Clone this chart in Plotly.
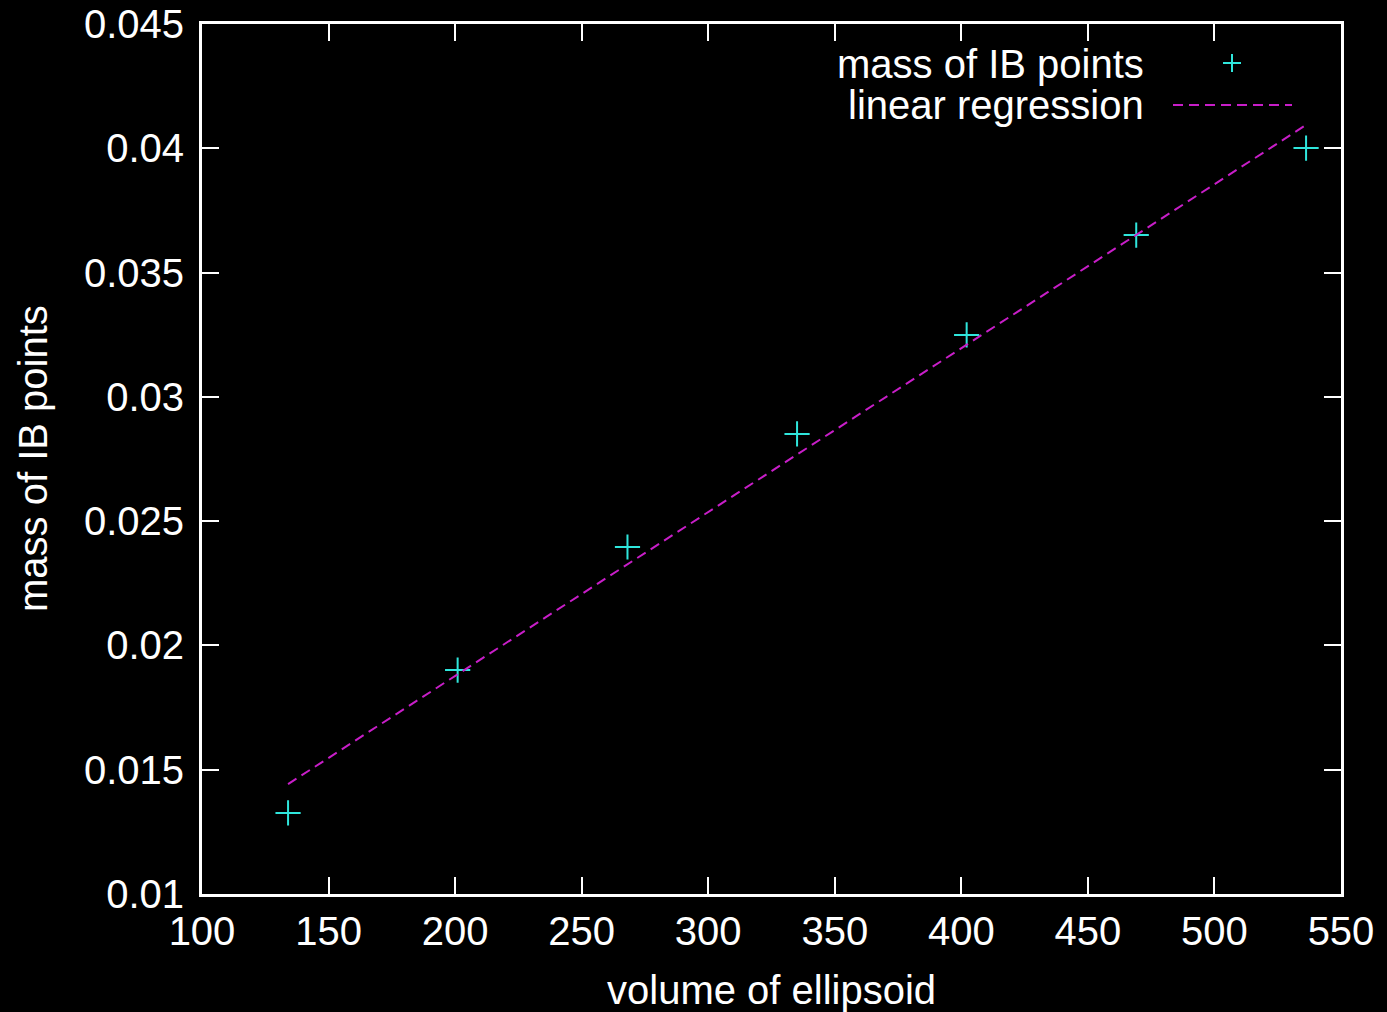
import plotly.graph_objects as go

# ---- data ----
volume = [134.0, 201.0, 268.1, 335.1, 402.1, 469.1, 536.2]
mass_ib = [0.01326, 0.01901, 0.02396, 0.02851, 0.03249, 0.03651, 0.04001]
fit_x = [134.0, 536.2]
fit_y = [0.01442, 0.04094]

x_ticks = [100, 150, 200, 250, 300, 350, 400, 450, 500, 550]
x_ticktext = ["100", "150", "200", "250", "300", "350", "400", "450", "500", "550"]
y_ticks = [0.01, 0.015, 0.02, 0.025, 0.03, 0.035, 0.04, 0.045]
y_ticktext = ["0.01", "0.015", "0.02", "0.025", "0.03", "0.035", "0.04", "0.045"]

# ---- layout constants ----
W, H = 1387, 1012
L, R, T, B = 202, 46, 24, 118
PW, PH = W - L - R, H - T - B
FONT = "Liberation Sans, Arial, Helvetica, sans-serif"
FS = 40
CYAN = "#2fe6dc"
MAGENTA = "#c81ec8"


def px(xpix):
    return (xpix - L) / PW


def py(ypix):
    return (H - B - ypix) / PH


fig = go.Figure()
fig.add_trace(go.Scatter(
    x=volume, y=mass_ib, mode="markers", name="mass of IB points",
    marker=dict(symbol="cross-thin-open", size=18, color=CYAN,
                line=dict(color=CYAN, width=2)),
    showlegend=False,
))
fig.add_trace(go.Scatter(
    x=fit_x, y=fit_y, mode="lines", name="linear regression",
    line=dict(color=MAGENTA, width=2, dash="10px,6px"),
    showlegend=False,
))

axis_common = dict(
    showgrid=False, zeroline=False, showline=True, linecolor="white",
    linewidth=3, mirror="ticks", ticks="inside", ticklen=17, tickwidth=2,
    tickcolor="white", tickfont=dict(family=FONT, size=FS, color="white"),
    automargin=False,
)
fig.update_xaxes(range=[100, 550], tickvals=x_ticks, ticktext=x_ticktext,
                 ticklabelstandoff=0, **axis_common)
fig.update_yaxes(range=[0.01, 0.045], tickvals=y_ticks, ticktext=y_ticktext,
                 ticklabelstandoff=7, **axis_common)

annotations = [
    dict(text="volume of ellipsoid", xref="paper", yref="paper",
         x=0.5, y=py(990), xanchor="center", yanchor="middle",
         showarrow=False, font=dict(family=FONT, size=FS, color="white")),
    dict(text="mass of IB points", xref="paper", yref="paper",
         x=px(33), y=0.5, xanchor="center", yanchor="middle", textangle=-90,
         showarrow=False, font=dict(family=FONT, size=FS, color="white")),
    dict(text="mass of IB points", xref="paper", yref="paper",
         x=px(1146), y=py(64), xanchor="right", yanchor="middle",
         showarrow=False, font=dict(family=FONT, size=FS, color="white")),
    dict(text="linear regression", xref="paper", yref="paper",
         x=px(1146), y=py(105), xanchor="right", yanchor="middle",
         showarrow=False, font=dict(family=FONT, size=FS, color="white")),
]

shapes = [
    # legend sample: cross marker
    dict(type="line", xref="paper", yref="paper",
         x0=px(1223), x1=px(1241), y0=py(63), y1=py(63),
         line=dict(color=CYAN, width=2)),
    dict(type="line", xref="paper", yref="paper",
         x0=px(1232), x1=px(1232), y0=py(54), y1=py(72),
         line=dict(color=CYAN, width=2)),
    # legend sample: dashed line
    dict(type="line", xref="paper", yref="paper",
         x0=px(1173), x1=px(1292), y0=py(105), y1=py(105),
         line=dict(color=MAGENTA, width=2, dash="10px,6px")),
]

fig.update_layout(
    width=W, height=H, autosize=False,
    margin=dict(l=L, r=R, t=T, b=B, autoexpand=False),
    paper_bgcolor="black", plot_bgcolor="black",
    font=dict(family=FONT, size=FS, color="white"),
    annotations=annotations, shapes=shapes, showlegend=False,
)

fig.write_html(
    "out.html",
    config={"displayModeBar": False},
    post_script="document.body.style.margin='0';document.body.style.background='black';document.body.style.overflow='hidden';",
)
